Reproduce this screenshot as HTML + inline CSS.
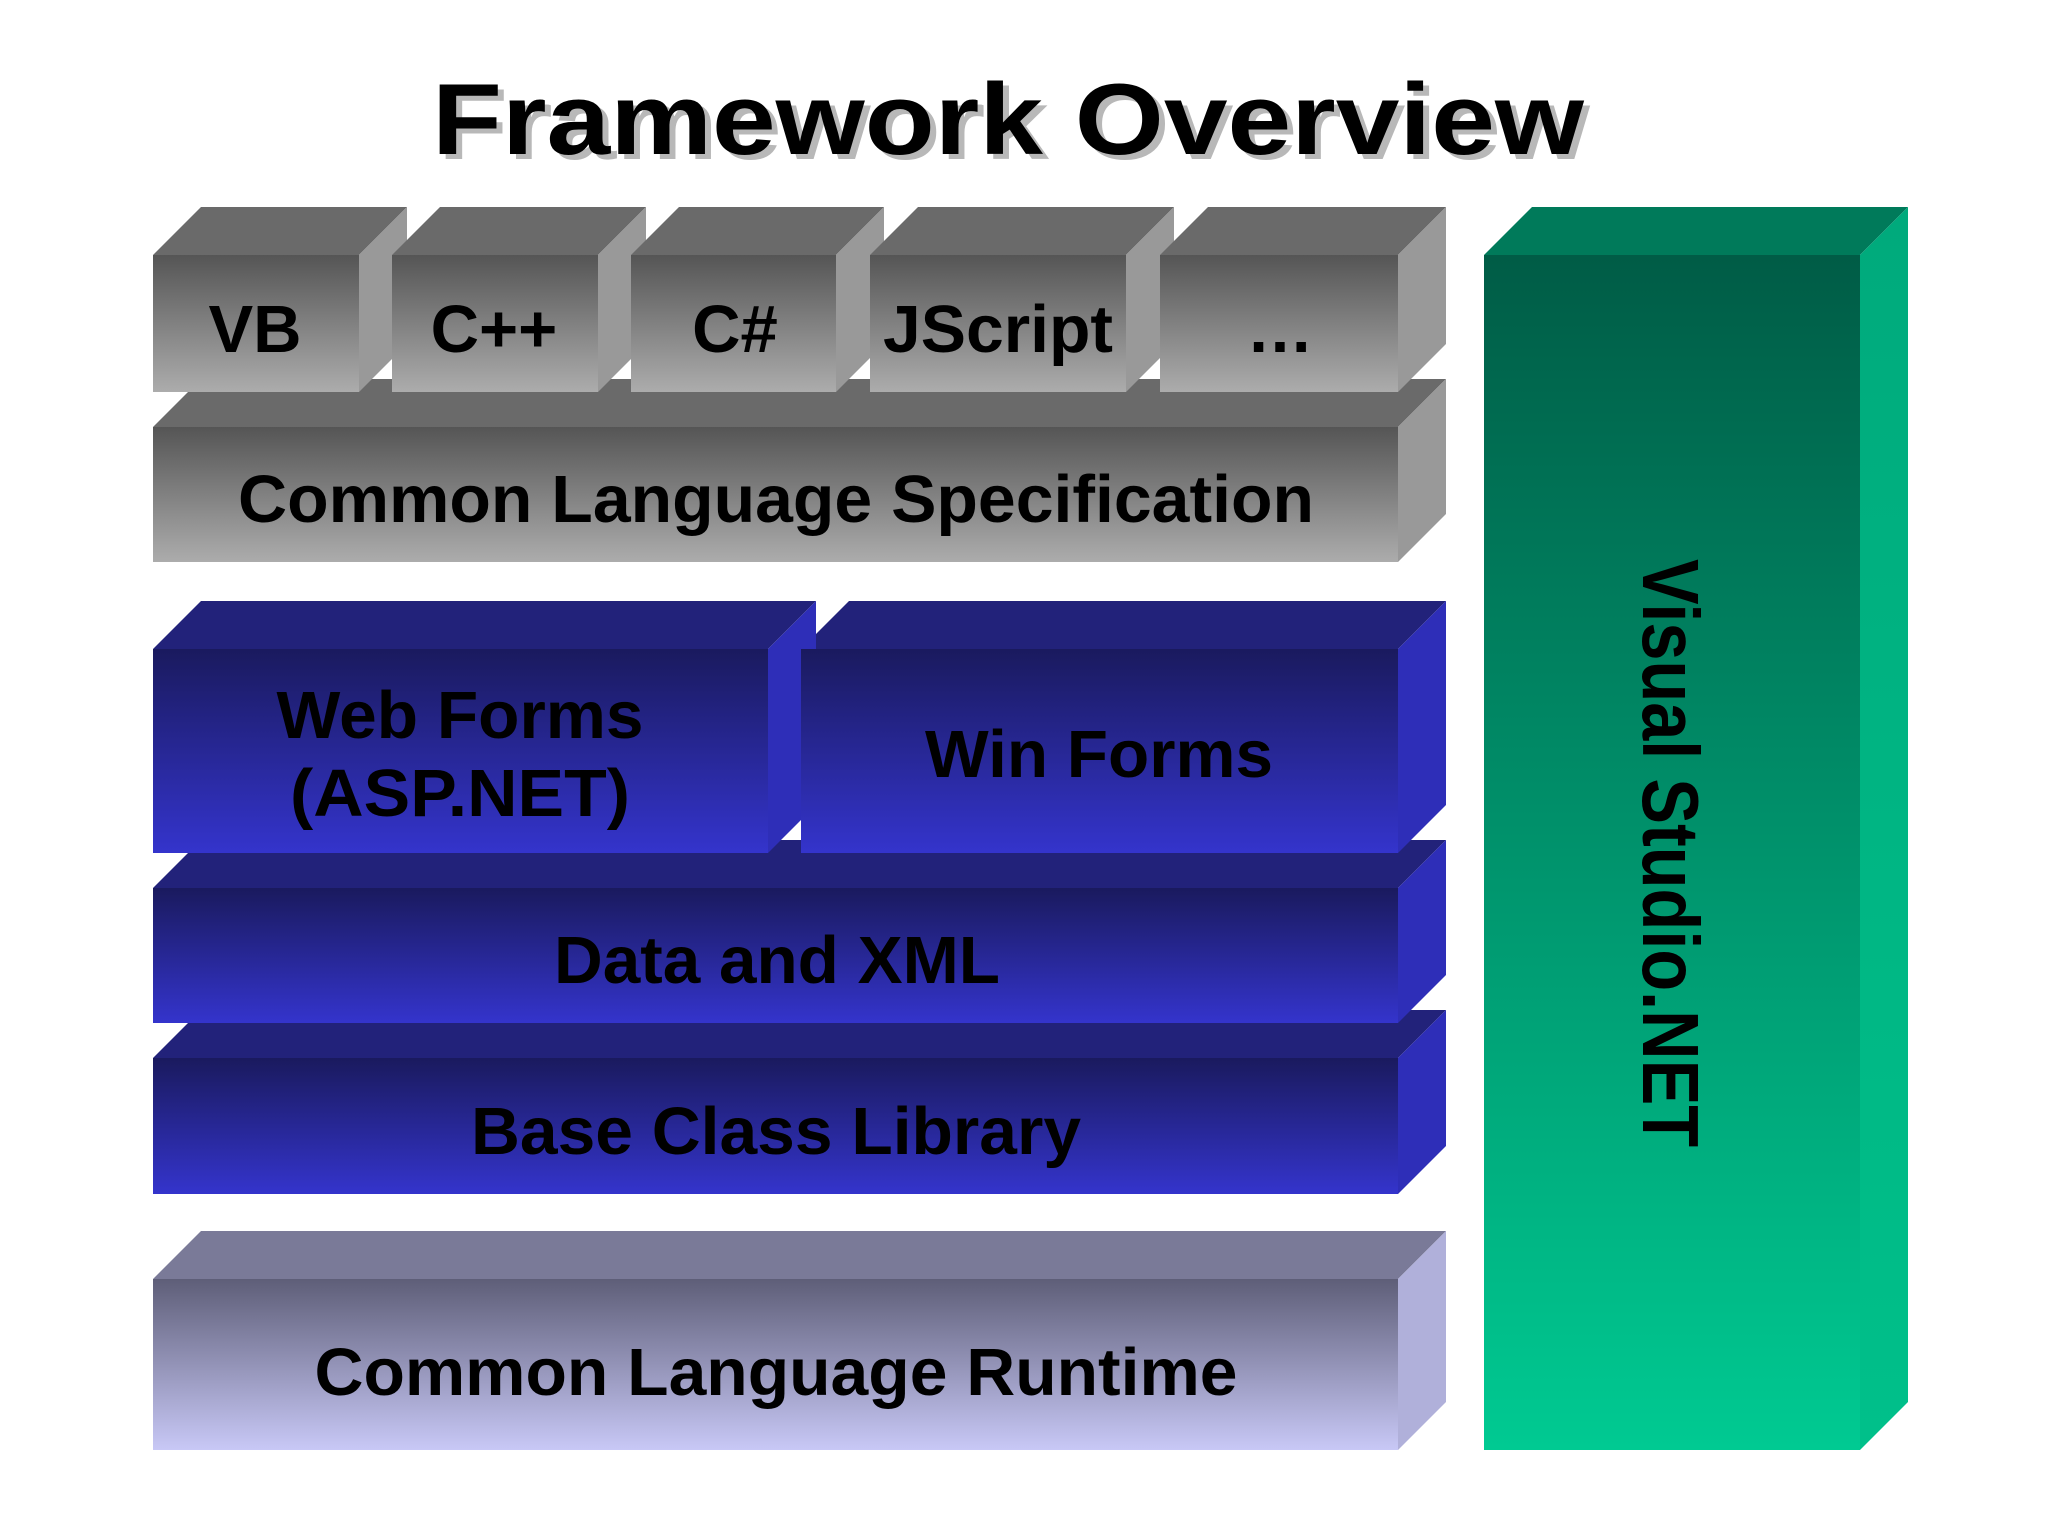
<!DOCTYPE html>
<html><head><meta charset="utf-8"><style>
html,body{margin:0;padding:0;background:#fff;}
svg{display:block;}
text{font-family:"Liberation Sans",Arial,sans-serif;font-weight:bold;fill:#000;}
</style></head><body>
<svg width="2048" height="1536" viewBox="0 0 2048 1536" xmlns="http://www.w3.org/2000/svg">
<defs>
<linearGradient id="gf" x1="0" y1="0" x2="0" y2="1"><stop offset="0" stop-color="#555"/><stop offset="1" stop-color="#acacac"/></linearGradient>
<linearGradient id="bf" x1="0" y1="0" x2="0" y2="1"><stop offset="0" stop-color="#1a1a5e"/><stop offset="1" stop-color="#3434cc"/></linearGradient>
<linearGradient id="cf" x1="0" y1="0" x2="0" y2="1"><stop offset="0" stop-color="#5e5e78"/><stop offset="1" stop-color="#c8c8f6"/></linearGradient>
<linearGradient id="vf" x1="0" y1="0" x2="0" y2="1"><stop offset="0" stop-color="#005c46"/><stop offset="1" stop-color="#00ca92"/></linearGradient>
<linearGradient id="vs" x1="0" y1="0" x2="0" y2="1"><stop offset="0" stop-color="#00aa7c"/><stop offset="1" stop-color="#00c08a"/></linearGradient>
</defs>

<text x="1014" y="159" font-size="101" text-anchor="middle" textLength="1152" lengthAdjust="spacingAndGlyphs" style="fill:#b8b8b8">Framework Overview</text>
<text x="1008" y="154" font-size="101" text-anchor="middle" textLength="1152" lengthAdjust="spacingAndGlyphs">Framework Overview</text>

<!-- CLS -->
<polygon points="153,427 201,379 1446,379 1398,427" fill="#6a6a6a"/>
<polygon points="1398,427 1446,379 1446,514 1398,562" fill="#999"/>
<rect x="153" y="427" width="1245" height="135" fill="url(#gf)"/>

<!-- language boxes -->
<polygon points="153,255 201,207 407,207 359,255" fill="#6a6a6a"/>
<polygon points="359,255 407,207 407,344 359,392" fill="#999"/>
<rect x="153" y="255" width="206" height="137" fill="url(#gf)"/>

<polygon points="392,255 440,207 646,207 598,255" fill="#6a6a6a"/>
<polygon points="598,255 646,207 646,344 598,392" fill="#999"/>
<rect x="392" y="255" width="206" height="137" fill="url(#gf)"/>

<polygon points="631,255 679,207 884,207 836,255" fill="#6a6a6a"/>
<polygon points="836,255 884,207 884,344 836,392" fill="#999"/>
<rect x="631" y="255" width="205" height="137" fill="url(#gf)"/>

<polygon points="870,255 918,207 1174,207 1126,255" fill="#6a6a6a"/>
<polygon points="1126,255 1174,207 1174,344 1126,392" fill="#999"/>
<rect x="870" y="255" width="256" height="137" fill="url(#gf)"/>

<polygon points="1160,255 1208,207 1446,207 1398,255" fill="#6a6a6a"/>
<polygon points="1398,255 1446,207 1446,344 1398,392" fill="#999"/>
<rect x="1160" y="255" width="238" height="137" fill="url(#gf)"/>

<!-- BCL -->
<polygon points="153,1058 201,1010 1446,1010 1398,1058" fill="#22227a"/>
<polygon points="1398,1058 1446,1010 1446,1146 1398,1194" fill="#2e2eb8"/>
<rect x="153" y="1058" width="1245" height="136" fill="url(#bf)"/>
<!-- Data and XML -->
<polygon points="153,888 201,840 1446,840 1398,888" fill="#22227a"/>
<polygon points="1398,888 1446,840 1446,975 1398,1023" fill="#2e2eb8"/>
<rect x="153" y="888" width="1245" height="135" fill="url(#bf)"/>
<!-- Win Forms -->
<polygon points="801,649 849,601 1446,601 1398,649" fill="#22227a"/>
<polygon points="1398,649 1446,601 1446,805 1398,853" fill="#2e2eb8"/>
<rect x="801" y="649" width="597" height="204" fill="url(#bf)"/>
<!-- Web Forms -->
<polygon points="153,649 201,601 816,601 768,649" fill="#22227a"/>
<polygon points="768,649 816,601 816,805 768,853" fill="#2e2eb8"/>
<rect x="153" y="649" width="615" height="204" fill="url(#bf)"/>
<rect x="801" y="649" width="597" height="204" fill="url(#bf)"/>

<!-- CLR -->
<polygon points="153,1279 201,1231 1446,1231 1398,1279" fill="#7a7a98"/>
<polygon points="1398,1279 1446,1231 1446,1402 1398,1450" fill="#b0b0da"/>
<rect x="153" y="1279" width="1245" height="171" fill="url(#cf)"/>

<!-- Visual Studio -->
<polygon points="1484,255 1532,207 1908,207 1860,255" fill="#007a5a"/>
<polygon points="1860,255 1908,207 1908,1402 1860,1450" fill="url(#vs)"/>
<rect x="1484" y="255" width="376" height="1195" fill="url(#vf)"/>

<!-- labels -->
<text x="255" y="352" font-size="67" text-anchor="middle">VB</text>
<text x="494" y="352" font-size="67" text-anchor="middle">C++</text>
<text x="735" y="352" font-size="67" text-anchor="middle">C#</text>
<text x="998" y="352" font-size="67" text-anchor="middle" textLength="230" lengthAdjust="spacingAndGlyphs">JScript</text>
<text x="1280" y="352" font-size="67" text-anchor="middle">…</text>
<text x="776" y="522" font-size="67" text-anchor="middle" textLength="1076" lengthAdjust="spacingAndGlyphs">Common Language Specification</text>
<text x="460" y="738" font-size="67" text-anchor="middle" textLength="367" lengthAdjust="spacingAndGlyphs">Web Forms</text>
<text x="460" y="816" font-size="67" text-anchor="middle" textLength="340" lengthAdjust="spacingAndGlyphs">(ASP.NET)</text>
<text x="1099" y="777" font-size="67" text-anchor="middle" textLength="348" lengthAdjust="spacingAndGlyphs">Win Forms</text>
<text x="777" y="983" font-size="67" text-anchor="middle" textLength="446" lengthAdjust="spacingAndGlyphs">Data and XML</text>
<text x="776" y="1154" font-size="67" text-anchor="middle" textLength="610" lengthAdjust="spacingAndGlyphs">Base Class Library</text>
<text x="776" y="1395" font-size="67" text-anchor="middle" textLength="923" lengthAdjust="spacingAndGlyphs">Common Language Runtime</text>
<text transform="translate(1643,853) rotate(90)" font-size="80" text-anchor="middle" textLength="588" lengthAdjust="spacingAndGlyphs">Visual Studio.NET</text>
</svg>
</body></html>
